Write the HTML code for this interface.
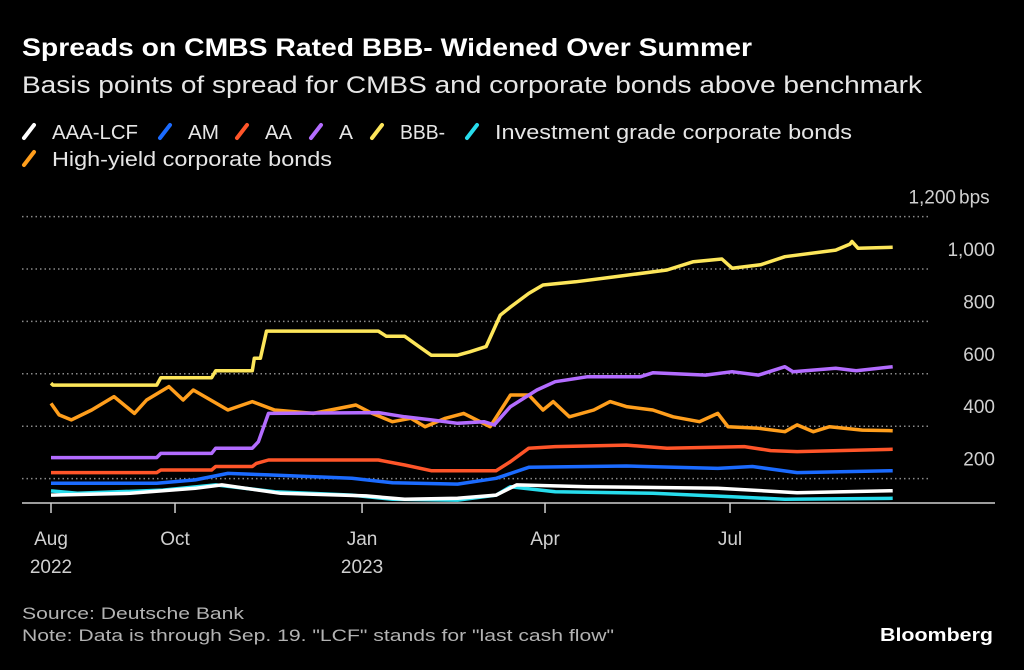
<!DOCTYPE html>
<html><head><meta charset="utf-8"><style>
html,body{margin:0;padding:0;background:#000;}
svg{display:block;font-family:"Liberation Sans",sans-serif;}
</style></head><body>
<svg id="c" width="1024" height="670" viewBox="0 0 1024 670">
<rect width="1024" height="670" fill="#000"/>
<text x="22" y="56" fill="#fff" font-size="25" font-weight="bold" textLength="730" lengthAdjust="spacingAndGlyphs">Spreads on CMBS Rated BBB- Widened Over Summer</text>
<text x="22" y="93" fill="#e6e6e6" font-size="24" textLength="900" lengthAdjust="spacingAndGlyphs">Basis points of spread for CMBS and corporate bonds above benchmark</text>
<g id="legend"></g>
<g id="grid"></g>
<g id="series"></g>
<g id="xaxis"></g>
<text x="22" y="619" fill="#b3b3b3" font-size="17" textLength="222" lengthAdjust="spacingAndGlyphs">Source: Deutsche Bank</text>
<text x="22" y="641" fill="#b3b3b3" font-size="17" textLength="592" lengthAdjust="spacingAndGlyphs">Note: Data is through Sep. 19. "LCF" stands for "last cash flow"</text>
<text x="880" y="641" fill="#fff" font-size="18" font-weight="bold" textLength="113" lengthAdjust="spacingAndGlyphs">Bloomberg</text>
</svg>
<script>
const yTicks=[200,400,600,800,1000,1200];
const yTickLabels=["200","400","600","800","1,000","1,200"];
const xTickDays=[0,61,153,243,334];
const xTickLabels=["Aug","Oct","Jan","Apr","Jul"];
const xTickYears=["2022","","2023","",""];
const seriesNames=["AAA-LCF","AM","AA","A","BBB-","Investment grade corporate bonds","High-yield corporate bonds"];
const seriesColors=["#ffffff","#1b6bff","#ff5529","#b36cff","#fde65a","#27dcec","#ff9e1c"];
const aaaDays=[0,39,71,84,113,155,174,200,219,229,264,328,367,414];
const aaaVals=[137,144,163,176,144,134,121,125,137,176,169,163,146,154];
const amDays=[0,52,71,87,107,148,168,200,219,235,283,328,345,367,414];
const amVals=[182,182,195,220,214,201,184,179,201,243,248,239,246,223,230];
const aaDays=[0,52,54,79,81,99,101,107,161,174,187,219,226,235,248,283,303,341,354,367,414];
const aaVals=[223,223,233,233,246,246,258,271,271,252,230,230,265,316,322,328,316,322,307,303,312];
const aDays=[0,52,54,79,81,99,102,107,161,174,187,200,213,218,226,239,248,264,290,296,322,335,348,361,365,386,396,414];
const aVals=[280,280,296,296,316,316,341,449,452,436,424,411,417,405,475,538,570,589,589,604,595,608,595,627,608,621,612,627];
const bbbDays=[0,1,52,54,79,81,99,100,103,106,161,165,174,181,187,200,206,214,221,226,235,242,258,277,303,316,330,335,349,361,386,393,394,397,414];
const bbbVals=[564,557,557,585,585,612,612,659,659,763,763,743,743,704,671,671,684,704,824,855,907,939,951,970,996,1028,1038,1003,1016,1047,1072,1095,1105,1079,1083];
const igDays=[0,13,55,81,110,148,168,200,219,226,248,296,335,361,414];
const igVals=[153,144,156,176,150,137,121,118,137,169,150,144,131,121,125];
const hyDays=[0,4,10,20,31,41,47,58,65,70,87,99,110,129,150,158,168,177,184,194,203,216,226,235,242,247,255,267,275,283,296,306,319,328,333,348,361,367,375,383,399,414];
const hyVals=[487,443,424,462,513,449,500,551,500,538,462,494,462,449,481,449,417,430,398,430,449,398,519,519,462,494,436,462,494,475,462,436,417,449,398,392,379,405,379,398,385,383];
const allDays=[aaaDays,amDays,aaDays,aDays,bbbDays,igDays,hyDays];
const allVals=[aaaVals,amVals,aaVals,aVals,bbbVals,igVals,hyVals];

const NS="http://www.w3.org/2000/svg";
function X(d){return 51+d*2.033;}
function Y(v){return 531-v*0.262;}
function mk(tag,attrs,parent){const e=document.createElementNS(NS,tag);for(const k in attrs)e.setAttribute(k,attrs[k]);parent.appendChild(e);return e;}
const grid=document.getElementById('grid');
yTicks.forEach((t,i)=>{
  const l=mk('line',{x1:22,x2:930,y1:Y(t),y2:Y(t),stroke:'#8a8a8a','stroke-width':1.5,'stroke-dasharray':'1.5 3'},grid);
  
  
  const tx=mk('text',{x:i==5?956:995,y:Y(t)-13,fill:'#d0d0d0','font-size':19,'text-anchor':'end'},grid);
  tx.textContent=yTickLabels[i];
  
  
});
const bps=mk('text',{x:959,y:Y(1200)-13,fill:'#d0d0d0','font-size':19},grid);
bps.textContent='bps';


const xa=document.getElementById('xaxis');
const base=mk('line',{x1:22,x2:995,y1:503,y2:503,stroke:'#cfcfcf','stroke-width':1.5},xa);


xTickDays.forEach((d,i)=>{
  const t=mk('line',{x1:X(d),x2:X(d),y1:503,y2:513,stroke:'#cfcfcf','stroke-width':1.5},xa);
  
  
  const tx=mk('text',{x:X(d),y:545,fill:'#d0d0d0','font-size':19,'text-anchor':'middle'},xa);
  tx.textContent=xTickLabels[i];
  
  
  if(xTickYears[i]){
    const ty=mk('text',{x:X(d),y:573,fill:'#d0d0d0','font-size':19,'text-anchor':'middle'},xa);
    ty.textContent=xTickYears[i];
    
    
  }
});
const sg=document.getElementById('series');
const order=[6,4,3,2,1,5,0];
order.forEach(i=>{
  const pts=allDays[i].map((d,j)=>X(d).toFixed(1)+','+Y(allVals[i][j]).toFixed(1)).join(' ');
  const p=mk('polyline',{points:pts,fill:'none',stroke:seriesColors[i],'stroke-width':3.5,'stroke-linejoin':'round'},sg);
  
  
});
const lg=document.getElementById('legend');
const lx=[22,158,235,309,370,465,22];
const ly=[139,139,139,139,139,139,166];
const lw=[86,31,27,14,45,357,280];
seriesNames.forEach((n,i)=>{
  const m=mk('line',{x1:lx[i]+2,y1:ly[i]-1,x2:lx[i]+12,y2:ly[i]-14,stroke:seriesColors[i],'stroke-width':4,'stroke-linecap':'round'},lg);
  
  
  const t=mk('text',{x:lx[i]+30,y:ly[i],fill:'#e6e6e6','font-size':20,textLength:lw[i],lengthAdjust:'spacingAndGlyphs'},lg);
  t.textContent=n;
  
  
});
</script>
</body></html>
